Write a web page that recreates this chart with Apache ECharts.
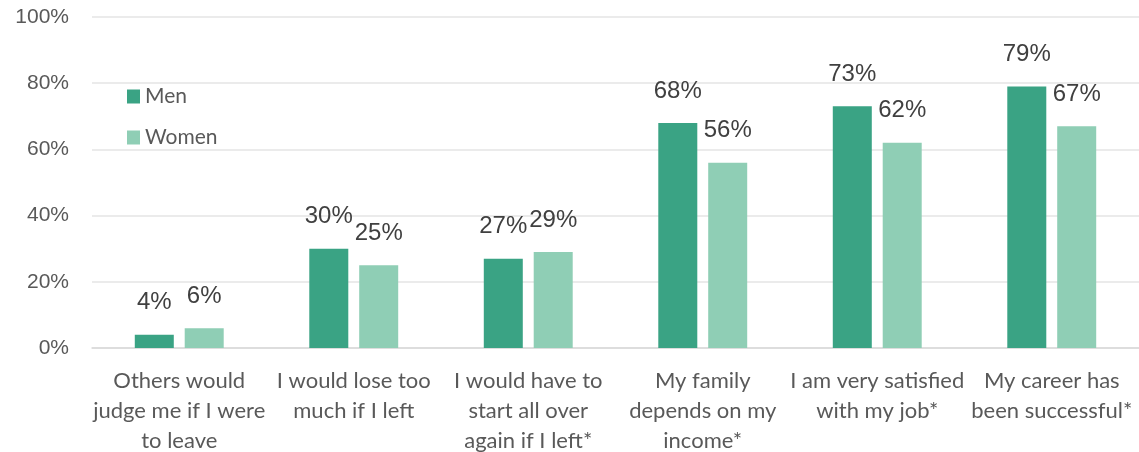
<!DOCTYPE html>
<html><head><meta charset="utf-8">
<script src="https://cdn.jsdelivr.net/npm/echarts@6/dist/echarts.min.js"></script>
<style>html,body{margin:0;padding:0;background:#fff}#c{width:1139px;height:452px}</style>
</head><body><div id="c"></div>
<script>
const categories = [
  "Others would\njudge me if I were\nto leave",
  "I would lose too\nmuch if I left",
  "I would have to\nstart all over\nagain if I left*",
  "My family\ndepends on my\nincome*",
  "I am very satisfied\nwith my job*",
  "My career has\nbeen successful*"
];
const men = [4, 30, 27, 68, 73, 79];
const women = [6, 25, 29, 56, 62, 67];
const yTicks = [0, 20, 40, 60, 80, 100];

const chart = echarts.init(document.getElementById('c'), null, {renderer: 'canvas'});
const labelCfg = {
  show: true, position: 'top', distance: 20,
  formatter: p => p.value + '%',
  color: '#404040', fontSize: 24, fontFamily: 'Liberation Sans'
};
chart.setOption({
  animation: false,
  grid: {left: 92, right: 0, top: 17, bottom: 104, containLabel: false, outerBoundsMode: 'none'},
  legend: {
    orient: 'vertical', left: 127, top: 86, padding: 0, itemWidth: 13, itemHeight: 14,
    itemGap: 20, icon: 'rect', itemStyle: {borderWidth: 0},
    textStyle: {color: '#595959', fontSize: 21, fontFamily: 'Lato', padding: [0,0,0,0]},
    data: ['Men', 'Women']
  },
  xAxis: {
    type: 'category', data: categories,
    axisLine: {lineStyle: {color: '#D9D9D9', width: 1.5}},
    axisTick: {show: false},
    axisLabel: {color: '#595959', fontSize: 22, fontFamily: 'Lato', lineHeight: 30, margin: 18, interval: 0}
  },
  yAxis: {
    type: 'value', min: yTicks[0], max: yTicks[yTicks.length-1], interval: 20,
    axisLabel: {formatter: '{value}%', color: '#595959', fontSize: 21, fontFamily: 'Liberation Sans', margin: 23},
    splitLine: {lineStyle: {color: '#E5E5E5', width: 1.5}},
    axisLine: {show: false}, axisTick: {show: false}
  },
  series: [
    {name: 'Men', type: 'bar', data: men, barWidth: 39, barGap: '28%',
     itemStyle: {color: '#3AA384'}, label: labelCfg},
    {name: 'Women', type: 'bar', data: women, barWidth: 39,
     itemStyle: {color: '#8FCEB5'}, label: labelCfg}
  ]
});
</script></body></html>
